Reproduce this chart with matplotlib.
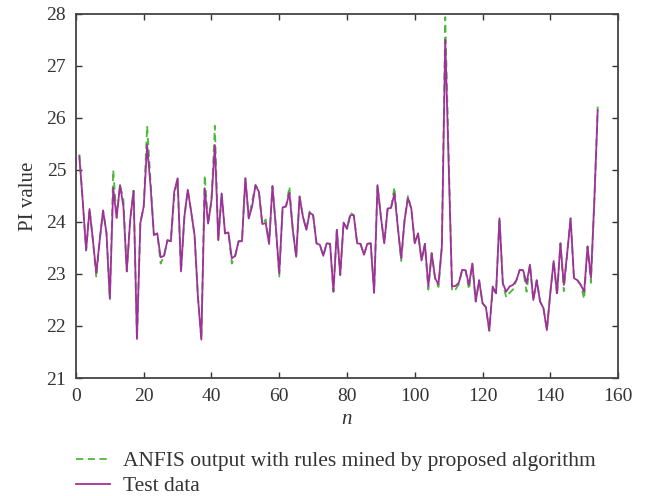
import matplotlib
matplotlib.use('Agg')
import matplotlib.pyplot as plt

# sample index
n = list(range(1, 155))

test_data = [
    25.26, 24.4, 23.46, 24.25, 23.65, 23.02, 23.65, 24.22, 23.79, 22.52,
    24.65, 24.08, 24.71, 24.3, 23.05, 24.04, 24.6, 21.75, 23.98, 24.3,
    25.48, 24.7, 23.75, 23.78, 23.32, 23.35, 23.65, 23.63, 24.58, 24.84,
    23.05, 24.1, 24.62, 24.2, 23.75, 22.56, 21.74, 24.65, 23.97, 24.42,
    25.48, 23.65, 24.55, 23.78, 23.8, 23.3, 23.35, 23.63, 23.63, 24.84,
    24.07, 24.3, 24.71, 24.58, 23.96, 23.98, 23.58, 24.69, 23.9, 23.01,
    24.28, 24.3, 24.56, 23.85, 23.33, 24.49, 24.1, 23.85, 24.18, 24.13,
    23.59, 23.56, 23.35, 23.59, 23.58, 22.66, 23.85, 22.98, 23.99, 23.87,
    24.13, 24.13, 23.59, 23.58, 23.37, 23.58, 23.59, 22.64, 24.71, 24.1,
    23.59, 24.26, 24.27, 24.55, 23.9, 23.3, 24.04, 24.46, 24.25, 23.59,
    23.78, 23.26, 23.58, 22.76, 23.4, 22.92, 22.8, 23.53, 27.5, 25.1,
    22.76, 22.77, 22.83, 23.08, 23.07, 22.79, 23.2, 22.47, 22.88, 22.44,
    22.36, 21.91, 22.76, 22.63, 24.07, 22.82, 22.66, 22.76, 22.79, 22.88,
    23.08, 23.07, 22.82, 23.18, 22.5, 22.88, 22.47, 22.34, 21.92, 22.63,
    23.25, 22.63, 23.59, 22.79, 23.4, 24.07, 22.92, 22.88, 22.79, 22.66,
    23.53, 22.92, 24.4, 26.15,
]

anfis_output = [
    25.3, 24.4, 23.45, 24.25, 23.65, 22.93, 23.65, 24.22, 23.79, 22.52,
    25.0, 24.08, 24.71, 24.43, 23.05, 24.04, 24.6, 21.75, 23.98, 24.3,
    25.85, 24.8, 23.75, 23.78, 23.2, 23.35, 23.65, 23.63, 24.49, 24.84,
    23.05, 24.1, 24.62, 24.2, 23.75, 22.56, 21.74, 24.9, 23.97, 24.42,
    25.85, 23.65, 24.55, 23.78, 23.8, 23.2, 23.35, 23.63, 23.63, 24.84,
    24.07, 24.4, 24.71, 24.58, 23.96, 24.05, 23.58, 24.69, 23.9, 22.95,
    24.28, 24.3, 24.68, 23.85, 23.33, 24.49, 24.1, 23.85, 24.22, 24.13,
    23.59, 23.56, 23.35, 23.59, 23.58, 22.66, 23.85, 22.98, 23.99, 23.87,
    24.18, 24.13, 23.59, 23.58, 23.37, 23.58, 23.59, 22.64, 24.71, 24.1,
    23.59, 24.26, 24.27, 24.67, 23.9, 23.25, 24.04, 24.5, 24.25, 23.59,
    23.78, 23.26, 23.58, 22.7, 23.4, 22.92, 22.75, 23.53, 27.94, 25.3,
    22.67, 22.7, 22.8, 23.08, 23.07, 22.7, 23.2, 22.47, 22.88, 22.44,
    22.36, 21.91, 22.7, 22.63, 24.07, 22.82, 22.55, 22.64, 22.7, 22.88,
    23.08, 23.07, 22.66, 23.18, 22.5, 22.88, 22.47, 22.34, 21.92, 22.63,
    23.25, 22.58, 23.59, 22.67, 23.4, 24.07, 22.92, 22.88, 22.79, 22.52,
    23.53, 22.83, 24.4, 26.22,
]

x_ticks = [0, 20, 40, 60, 80, 100, 120, 140, 160]
y_ticks = [21, 22, 23, 24, 25, 26, 27, 28]

plt.rcParams['font.family'] = ['Liberation Serif', 'DejaVu Serif']

fig = plt.figure(figsize=(6.46, 4.96), dpi=100)
ax = fig.add_axes([0.1176, 0.2379, 0.8391, 0.7339])

ax.plot(n, anfis_output, '--', color='#4cb83c', linewidth=1.3,
        dashes=(4, 2.5),
        label='ANFIS output with rules mined by proposed algorithm')
ax.plot(n, test_data, '-', color='#a2309c', linewidth=1.3, label='Test data')

ax.set_xlim(0, 160)
ax.set_ylim(21, 28)
ax.set_xticks(x_ticks)
ax.set_yticks(y_ticks)
ax.tick_params(direction='in', top=True, right=True, labelsize=14,
               colors='#333333', length=4, width=1)
ax.tick_params(axis='x', pad=7)
ax.tick_params(axis='y', pad=7)
for sp in ax.spines.values():
    sp.set_color('#444444')
    sp.set_linewidth(1.3)

ax.set_xlabel('n', fontsize=15, fontstyle='italic', color='#333333',
              labelpad=4)
ax.set_ylabel('PI value', fontsize=15, color='#333333', labelpad=6)

fig.legend(loc='upper left', bbox_to_anchor=(0.117, 0.09), frameon=False,
           fontsize=15.5, handlelength=1.6, handletextpad=0.6,
           labelspacing=0.22, borderaxespad=0, borderpad=0,
           labelcolor='#333333')

plt.savefig('out.png', dpi=100)
